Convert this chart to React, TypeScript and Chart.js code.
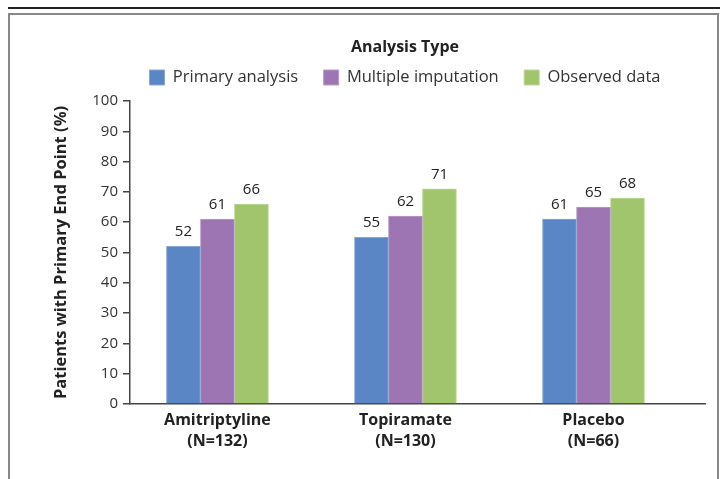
import { useEffect, useRef } from 'react';
import { Chart, registerables } from 'chart.js';

Chart.register(...registerables);

const FONT = '"Open Sans", "Noto Sans", sans-serif';

const categories = ['Amitriptyline', 'Topiramate', 'Placebo'];
const groupSizes = ['(N=132)', '(N=130)', '(N=66)'];
const seriesNames = ['Primary analysis', 'Multiple imputation', 'Observed data'];
const primaryAnalysis = [52, 55, 61];
const multipleImputation = [61, 62, 65];
const observedData = [66, 71, 68];
const seriesColors = ['#5b86c5', '#9d75b3', '#a0c56c'];
const seriesBorders = ['#86a6d6', '#b89ac9', '#bcd897'];
const yMin = 0;
const yMax = 100;
const yStep = 10;

const LEGEND_LIFT = 5.25;

const valueLabels = {
  id: 'valueLabels',
  afterDatasetsDraw(chart: any) {
    const ctx = chart.ctx;
    ctx.save();
    ctx.font = `15px ${FONT}`;
    ctx.fillStyle = '#222';
    ctx.textAlign = 'center';
    ctx.textBaseline = 'alphabetic';
    chart.data.datasets.forEach((ds: any, di: number) => {
      const meta = chart.getDatasetMeta(di);
      meta.data.forEach((bar: any, i: number) => {
        ctx.fillText(String(ds.data[i].y), bar.x, bar.y - 10);
      });
    });
    ctx.restore();
  },
};

// centre the legend over the plot region and lift it slightly above the plot
const legendPlace = {
  id: 'legendPlace',
  afterLayout(chart: any) {
    const lg = chart.legend;
    if (!lg) return;
    lg.left = 105;
    lg.width = lg.right - lg.left;
    lg.top -= LEGEND_LIFT;
    lg.bottom -= LEGEND_LIFT;
  },
};

export default function App() {
  const ref = useRef<HTMLCanvasElement>(null);

  useEffect(() => {
    if (!ref.current) return;
    const series = [primaryAnalysis, multipleImputation, observedData];
    const chart = new Chart(ref.current, {
      type: 'bar',
      data: {
        datasets: series.map((vals, si) => ({
          label: seriesNames[si],
          data: vals.map((v, i) => ({ x: i, y: v })),
          backgroundColor: seriesColors[si],
          borderColor: seriesBorders[si],
          borderWidth: 1,
          barThickness: 34,
        })),
      },
      options: {
        animation: false,
        responsive: true,
        maintainAspectRatio: false,
        layout: { padding: { left: 48, right: 16, top: LEGEND_LIFT, bottom: 0 } },
        plugins: {
          tooltip: { enabled: false },
          legend: {
            position: 'top',
            align: 'center',
            title: {
              display: true,
              text: 'Analysis Type',
              color: '#222',
              font: { family: FONT, size: 16, weight: 'bold' },
              padding: { top: 39, bottom: -14.45 },
            },
            labels: {
              boxWidth: 15,
              boxHeight: 15,
              padding: 25.5,
              color: '#333',
              font: { family: FONT, size: 16.5 },
            },
          },
        },
        scales: {
          x: {
            type: 'linear',
            offset: false,
            min: -0.465,
            max: 2.593,
            grid: { display: false, drawTicks: false },
            border: { display: true, color: '#444', width: 1.5 },
            afterFit: (s: any) => {
              s.height = 75;
            },
            ticks: {
              stepSize: 1,
              includeBounds: false,
              autoSkip: false,
              maxRotation: 0,
              padding: 6,
              color: '#222',
              font: { family: FONT, size: 16, weight: 'bold', lineHeight: 1.3125 },
              callback: (v: any) => {
                const i = Number(v);
                if (Number.isInteger(i) && i >= 0 && i < categories.length) {
                  return [categories[i], groupSizes[i]];
                }
                return '';
              },
            },
          },
          y: {
            min: yMin,
            max: yMax,
            grid: { display: true, drawOnChartArea: false, drawTicks: true, tickLength: 7, color: '#444', lineWidth: 1.5 },
            border: { display: true, color: '#444', width: 1.5 },
            afterFit: (s: any) => {
              s.width = 82;
            },
            title: {
              display: true,
              text: 'Patients with Primary End Point (%)',
              color: '#222',
              font: { family: FONT, size: 16.5, weight: 'bold' },
              padding: { top: 3, bottom: 0 },
            },
            ticks: {
              stepSize: yStep,
              padding: 5,
              color: '#333',
              font: { family: FONT, size: 15 },
            },
          },
        },
      },
      plugins: [valueLabels, legendPlace],
    } as any);
    return () => chart.destroy();
  }, []);

  return (
    <div style={{ position: 'absolute', left: 0, top: 0, width: 721, height: 479, overflow: 'hidden', background: '#fff' }}>
      <div style={{ position: 'absolute', left: 8, top: 7, width: 712, height: 2, background: '#222' }} />
      <div style={{ position: 'absolute', left: 8, top: 13, width: 707, height: 500, border: '2px solid #888', boxSizing: 'content-box' }} />
      <canvas ref={ref} style={{ position: 'absolute', left: 0, top: 0, width: 721, height: 479 }} />
    </div>
  );
}
